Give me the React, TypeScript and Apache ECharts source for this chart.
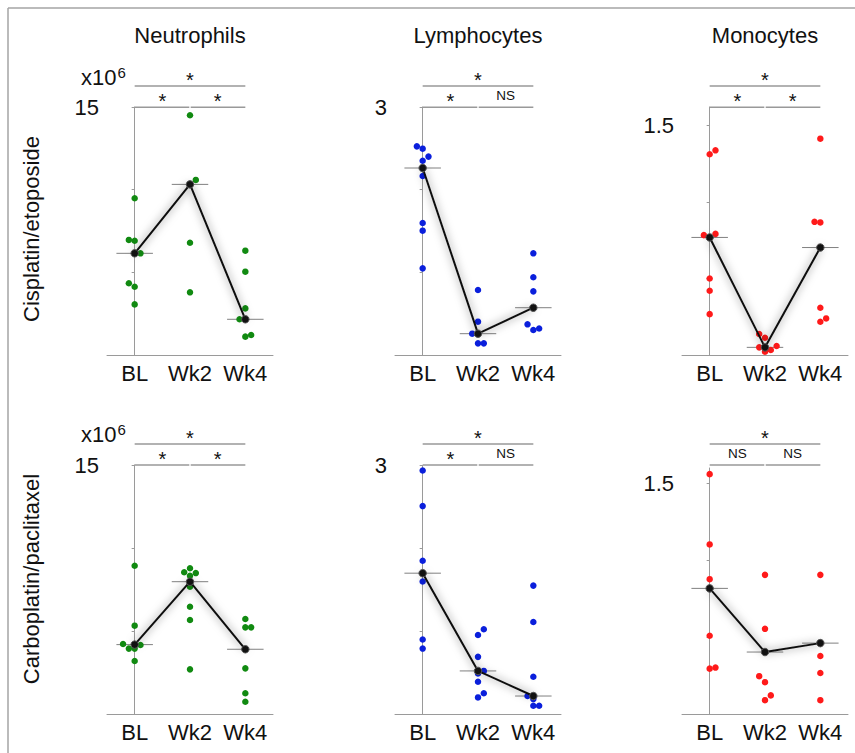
import React, { useEffect, useRef } from "react";
import * as echarts from "echarts";

// ---------- data ----------
const CATEGORIES = ["BL", "Wk2", "Wk4"];
const PANEL_TITLES = ["Neutrophils", "Lymphocytes", "Monocytes"];
const ROW_LABELS = ["Cisplatin/etoposide", "Carboplatin/paclitaxel"];

// y axis: max, tick interval, labelled value (per column)
const Y_MAX_TOP = [15, 3, 1.62];
const Y_MAX_BOTTOM = [15, 3, 1.6];
const Y_INTERVAL = [5, 1, 0.5];
const Y_LABEL_VALUE = [15, 3, 1.5];

// Neutrophils, cisplatin/etoposide (x10^6)
const neuCisValues = [
  [9.48, 6.96, 6.91, 6.15, 6.15, 4.34, 4.13, 3.06],
  [14.5, 10.59, 10.32, 6.79, 3.79],
  [6.31, 5.04, 2.82, 2.16, 2.16, 1.11, 1.21],
];
const neuCisJitter = [
  [0, -1, 0, 0, 1, -1, 0, 0],
  [0, 1, 0, 0, 0],
  [0, 0, 0, -1, 0, 0, 1],
];
const neuCisMedians = [6.15, 10.32, 2.16];

// Lymphocytes, cisplatin/etoposide
const lymCisValues = [
  [2.524, 2.496, 2.4, 2.35, 2.262, 2.165, 1.597, 1.504, 1.048],
  [0.786, 0.403, 0.258, 0.258, 0.141, 0.141],
  [1.23, 0.94, 0.77, 0.572, 0.371, 0.302, 0.32],
];
const lymCisJitter = [
  [-1, 0, 1, 0, 0, 0, 0, 0, 0],
  [0, 0, -1, 0, 0, 1],
  [0, 0, 0, 0, -1, 0, 1],
];
const lymCisMedians = [2.262, 0.258, 0.572];

// Monocytes, cisplatin/etoposide
const monCisValues = [
  [1.311, 1.337, 0.783, 0.791, 0.768, 0.5, 0.42, 0.267],
  [0.137, 0.113, 0.05, 0.059, 0.05, 0.022, 0.033],
  [1.413, 0.87, 0.866, 0.702, 0.309, 0.217, 0.239],
];
const monCisJitter = [
  [0, 1, -1, 1, 0, 0, 0, 0],
  [-1, 0, -1, 2, 0, 0, 1],
  [0, -1, 0, 0, 0, 0, 1],
];
const monCisMedians = [0.768, 0.05, 0.702];

// Neutrophils, carboplatin/paclitaxel (x10^6)
const neuCarValues = [
  [8.93, 5.32, 4.22, 4.16, 4.18, 3.94, 3.94, 3.19],
  [8.54, 8.78, 8.49, 8.33, 7.97, 7.67, 6.46, 5.66, 2.69],
  [5.72, 5.22, 5.22, 3.9, 2.75, 1.25, 0.74],
];
const neuCarJitter = [
  [0, 0, -2, 1, 0, -1, 0, 0],
  [-1, 0, 1, 0, 0, 0, 0, 0, 0],
  [0, 0, 1, 0, 0, 0, 0],
];
const neuCarMedians = [4.18, 7.97, 3.9];

// Lymphocytes, carboplatin/paclitaxel
const lymCarValues = [
  [2.94, 2.51, 1.85, 1.7, 1.6, 0.9, 0.79],
  [0.954, 1.023, 0.69, 0.52, 0.52, 0.49, 0.39, 0.2, 0.25],
  [1.55, 1.11, 0.45, 0.217, 0.217, 0.18, 0.1, 0.1],
];
const lymCarJitter = [
  [0, 0, 0, 0, 0, 0, 0],
  [0, 1, 0, 0, 1, 0, 0, 0, 1],
  [0, 0, 0, -1, 0, 0, 0, 1],
];
const lymCarMedians = [1.7, 0.52, 0.217];

// Monocytes, carboplatin/paclitaxel
const monCarValues = [
  [1.56, 1.103, 0.877, 0.817, 0.509, 0.295, 0.302],
  [0.905, 0.554, 0.403, 0.246, 0.207, 0.121, 0.09],
  [0.905, 0.461, 0.377, 0.267, 0.09],
];
const monCarJitter = [
  [0, 0, 0, 0, 0, 0, 1],
  [0, 0, 0, -1, 0, 1, 0],
  [0, 0, 0, 0, 0],
];
const monCarMedians = [0.817, 0.403, 0.461];

// significance labels: [BL vs Wk4, BL vs Wk2, Wk2 vs Wk4]
const SIG_TOP_ROW = [
  ["*", "*", "*"],
  ["*", "*", "NS"],
  ["*", "*", "*"],
];
const SIG_BOTTOM_ROW = [
  ["*", "*", "*"],
  ["*", "*", "NS"],
  ["*", "NS", "NS"],
];

// ---------- styling / layout ----------
const FONT = "'Liberation Sans', Arial, Helvetica, sans-serif";
const COLORS = ["#118a11", "#0a1fdc", "#ff1a1a"];
const JITTER_STEP = 0.105;
const MEDIAN_HALF = 0.33;
const GRID_LEFT = [107, 395, 682];
const GRID_WIDTH = 166;
const ROW_TOP = [[107, 107, 107], [465, 465.5, 468]];
const ROW_BOTTOM = [355, 714];
const BRACKET_LOW_Y = [107.3, 465];
const BRACKET_HIGH_Y = [86, 444];
const AXIS_GRAY = "#9a9a9a";
const BIG = 22;

const PANELS = [
  { values: neuCisValues, jitter: neuCisJitter, medians: neuCisMedians, sig: SIG_TOP_ROW[0] },
  { values: lymCisValues, jitter: lymCisJitter, medians: lymCisMedians, sig: SIG_TOP_ROW[1] },
  { values: monCisValues, jitter: monCisJitter, medians: monCisMedians, sig: SIG_TOP_ROW[2] },
  { values: neuCarValues, jitter: neuCarJitter, medians: neuCarMedians, sig: SIG_BOTTOM_ROW[0] },
  { values: lymCarValues, jitter: lymCarJitter, medians: lymCarMedians, sig: SIG_BOTTOM_ROW[1] },
  { values: monCarValues, jitter: monCarJitter, medians: monCarMedians, sig: SIG_BOTTOM_ROW[2] },
];

function buildOption() {
  const grid: any[] = [];
  const xAxis: any[] = [];
  const yAxis: any[] = [];
  const series: any[] = [];

  PANELS.forEach((panel, p) => {
    const row = Math.floor(p / 3);
    const col = p % 3;
    const top = ROW_TOP[row][col];
    const max = row === 0 ? Y_MAX_TOP[col] : Y_MAX_BOTTOM[col];
    const interval = Y_INTERVAL[col];
    const labelVal = Y_LABEL_VALUE[col];
    const ticks: number[] = [];
    for (let v = 0; v <= max + 1e-9; v += interval) ticks.push(+v.toFixed(4));

    grid.push({ left: GRID_LEFT[col], top, width: GRID_WIDTH, height: ROW_BOTTOM[row] - top });
    xAxis.push({
      type: "category",
      gridIndex: p,
      data: CATEGORIES,
      axisLine: { lineStyle: { color: AXIS_GRAY, width: 1 } },
      axisTick: { alignWithLabel: true, interval: 0, length: 4, lineStyle: { color: AXIS_GRAY } },
      axisLabel: { interval: 0, hideOverlap: false, fontSize: BIG, color: "#111", margin: 7, fontFamily: FONT },
    });
    xAxis.push({ type: "value", gridIndex: p, min: -0.5, max: 2.5, show: false });
    yAxis.push({
      type: "value",
      gridIndex: p,
      min: 0,
      max,
      interval,
      axisLine: { show: true, lineStyle: { color: AXIS_GRAY, width: 1 } },
      axisTick: { show: true, length: 3, customValues: ticks, lineStyle: { color: AXIS_GRAY } },
      axisLabel: {
        customValues: [labelVal],
        fontSize: BIG,
        color: "#111",
        margin: 8,
        fontFamily: FONT,
        formatter: (v: number) => (Math.abs(v - labelVal) < 1e-6 ? String(labelVal) : ""),
      },
      splitLine: { show: false },
    });

    const points: number[][] = [];
    panel.values.forEach((vals, ci) =>
      vals.forEach((v, k) => points.push([ci + panel.jitter[ci][k] * JITTER_STEP, v]))
    );
    series.push({
      type: "scatter",
      xAxisIndex: 2 * p + 1,
      yAxisIndex: p,
      data: points,
      symbolSize: 6.5,
      itemStyle: { color: COLORS[col], opacity: 1 },
      z: 3,
    });
    series.push({
      type: "custom",
      xAxisIndex: 2 * p + 1,
      yAxisIndex: p,
      data: panel.medians.map((m, ci) => [ci, m]),
      renderItem: (params: any, api: any) => {
        const x = api.value(0);
        const y = api.value(1);
        const a = api.coord([x - MEDIAN_HALF, y]);
        const b = api.coord([x + MEDIAN_HALF, y]);
        return {
          type: "line",
          shape: { x1: a[0], y1: a[1], x2: b[0], y2: b[1] },
          style: { stroke: "#808080", lineWidth: 1 },
        };
      },
      z: 2,
    });
    series.push({
      type: "line",
      xAxisIndex: 2 * p + 1,
      yAxisIndex: p,
      data: panel.medians.map((m, ci) => [ci, m]),
      symbol: "circle",
      symbolSize: 7.5,
      showSymbol: true,
      lineStyle: { color: "#111", width: 2, shadowBlur: 9, shadowColor: "rgba(0,0,0,0.6)" },
      itemStyle: { color: "#111", borderColor: "#555", borderWidth: 1 },
      z: 4,
    });
  });

  return { animation: false, backgroundColor: "#fff", grid, xAxis, yAxis, series };
}

export default function App() {
  const ref = useRef<HTMLDivElement>(null);
  useEffect(() => {
    if (!ref.current) return;
    const chart = echarts.init(ref.current, null, { renderer: "svg" });
    chart.setOption(buildOption());

    const graphic: any[] = [];
    // frame
    graphic.push({ type: "line", shape: { x1: 8, y1: 8, x2: 8, y2: 753 }, style: { stroke: "#a5a5a5", lineWidth: 1.5 } });
    graphic.push({ type: "line", shape: { x1: 8, y1: 8, x2: 855, y2: 8 }, style: { stroke: "#a5a5a5", lineWidth: 1.5 } });

    // titles
    PANEL_TITLES.forEach((t, c) => {
      graphic.push({
        type: "text",
        x: GRID_LEFT[c] + GRID_WIDTH / 2,
        y: 35,
        style: { text: t, fontSize: BIG, fontFamily: FONT, fill: "#111", align: "center", verticalAlign: "middle" },
      });
    });
    // row labels
    const rowCenters = [229, 579];
    ROW_LABELS.forEach((t, r) => {
      graphic.push({
        type: "text",
        x: 31,
        y: rowCenters[r],
        rotation: Math.PI / 2,
        style: { text: t, fontSize: BIG, fontFamily: FONT, fill: "#111", align: "center", verticalAlign: "middle" },
      });
    });
    // x10^6
    [0, 1].forEach((r) => {
      const yc = r === 0 ? 77 : 434;
      graphic.push({
        type: "text",
        x: 81,
        y: yc,
        style: { text: "x10", fontSize: BIG, fontFamily: FONT, fill: "#111", align: "left", verticalAlign: "middle" },
      });
      graphic.push({
        type: "text",
        x: 117.5,
        y: yc - 4.5,
        style: { text: "6", fontSize: 15, fontFamily: FONT, fill: "#111", align: "left", verticalAlign: "middle" },
      });
    });

    // significance brackets
    PANELS.forEach((panel, p) => {
      const row = Math.floor(p / 3);
      const xs = [0, 1, 2].map((i) => chart.convertToPixel({ xAxisIndex: 2 * p + 1 }, i) as number);
      const yLow = BRACKET_LOW_Y[row];
      const yHigh = BRACKET_HIGH_Y[row];
      const lineStyle = { stroke: "#999", lineWidth: 1.5 };
      graphic.push({ type: "line", shape: { x1: xs[0], y1: yHigh, x2: xs[2], y2: yHigh }, style: lineStyle });
      graphic.push({ type: "line", shape: { x1: xs[0], y1: yLow, x2: xs[1] - 0.7, y2: yLow }, style: lineStyle });
      graphic.push({ type: "line", shape: { x1: xs[1] + 0.7, y1: yLow, x2: xs[2], y2: yLow }, style: lineStyle });
      const labels = [
        { t: panel.sig[0], x: (xs[0] + xs[2]) / 2, y: yHigh },
        { t: panel.sig[1], x: (xs[0] + xs[1]) / 2, y: yLow },
        { t: panel.sig[2], x: (xs[1] + xs[2]) / 2, y: yLow },
      ];
      labels.forEach((l) => {
        const isStar = l.t === "*";
        graphic.push({
          type: "text",
          x: l.x,
          y: isStar ? l.y - 6.5 : l.y - 11.5,
          style: {
            text: l.t,
            fontSize: isStar ? 20 : 13.5,
            fontFamily: FONT,
            fill: "#111",
            align: "center",
            verticalAlign: "middle",
          },
        });
      });
    });

    chart.setOption({ graphic });
    return () => chart.dispose();
  }, []);

  return (
    <div
      ref={ref}
      style={{ position: "absolute", left: 0, top: 0, width: 855, height: 753, background: "#fff" }}
    />
  );
}
